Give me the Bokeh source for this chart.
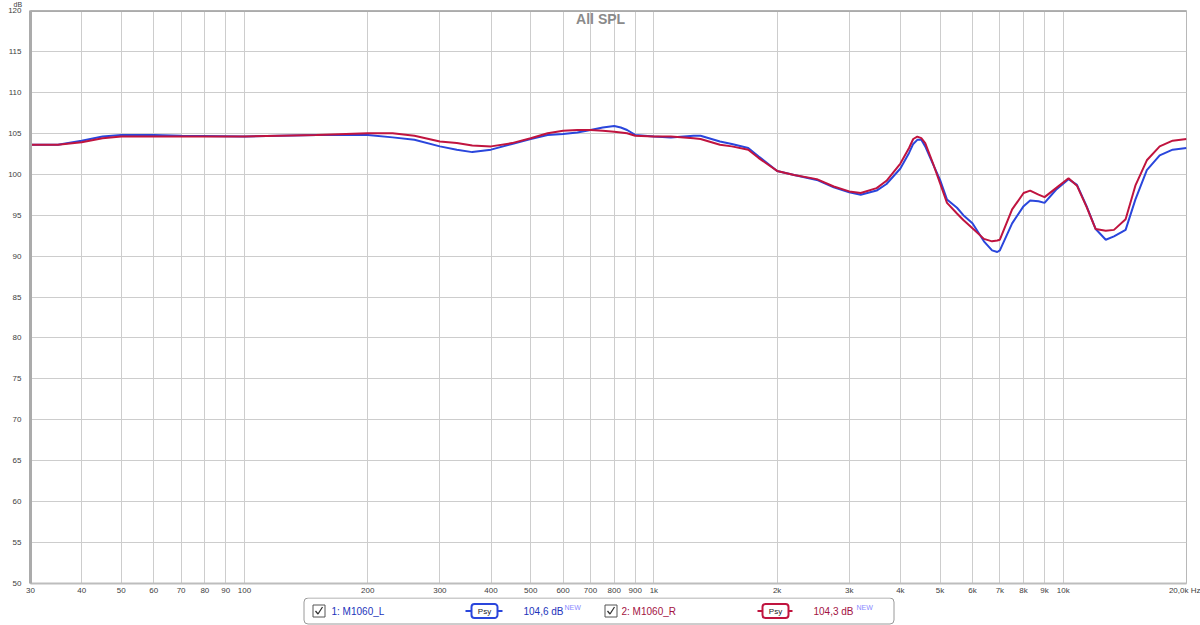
from bokeh.plotting import figure
from bokeh.layouts import column
from bokeh.models import Range1d, FixedTicker, Label, Span
from bokeh.embed import file_html
from bokeh.resources import INLINE

# ---------------- data ----------------
freq_hz = [30, 35, 40, 45, 50, 60, 70, 100, 150, 200, 230, 260, 300, 330, 360, 400,
           450, 500, 550, 600, 650, 700, 750, 800, 830, 860, 900, 1000, 1100, 1250,
           1300, 1450, 1550, 1700, 1800, 2000, 2200, 2500, 2750, 3000, 3200, 3500,
           3700, 4000, 4200, 4300, 4400, 4500, 4600, 4800, 5000, 5200, 5500, 5700,
           6000, 6400, 6700, 6900, 7000, 7500, 8000, 8300, 8700, 9000, 9600, 10300,
           10800, 11400, 12000, 12700, 13300, 14200, 15000, 16000, 17200, 18500, 20000]

spl_left = [103.6, 103.6, 104.1, 104.6, 104.8, 104.8, 104.7, 104.6, 104.8, 104.8,
            104.5, 104.2, 103.4, 103.0, 102.7, 103.0, 103.7, 104.3, 104.8, 104.9,
            105.1, 105.4, 105.7, 105.9, 105.7, 105.4, 104.8, 104.6, 104.5, 104.7,
            104.7, 104.0, 103.7, 103.2, 102.2, 100.4, 99.9, 99.3, 98.4, 97.8, 97.5,
            98.0, 98.8, 100.7, 102.6, 103.7, 104.2, 104.2, 103.4, 101.3, 99.3, 96.9,
            95.9, 95.0, 94.0, 91.8, 90.7, 90.5, 90.7, 94.0, 96.1, 96.8, 96.7, 96.5,
            98.1, 99.4, 98.7, 96.1, 93.3, 92.0, 92.4, 93.2, 96.9, 100.5, 102.3,
            103.0, 103.2]

spl_right = [103.6, 103.6, 103.9, 104.4, 104.6, 104.6, 104.6, 104.6, 104.8, 105.0,
             105.0, 104.7, 104.0, 103.8, 103.5, 103.4, 103.8, 104.4, 105.0, 105.3,
             105.4, 105.4, 105.3, 105.2, 105.1, 105.0, 104.7, 104.6, 104.6, 104.4,
             104.3, 103.6, 103.4, 103.0, 102.0, 100.4, 99.9, 99.4, 98.5, 97.9, 97.7,
             98.3, 99.2, 101.3, 103.2, 104.3, 104.6, 104.4, 103.8, 101.4, 98.9, 96.5,
             95.2, 94.4, 93.4, 92.1, 91.8, 91.9, 92.0, 95.7, 97.7, 98.0, 97.5, 97.2,
             98.3, 99.5, 98.6, 96.0, 93.3, 93.1, 93.2, 94.5, 98.6, 101.7, 103.4,
             104.1, 104.3]

x_ticks = [30, 40, 50, 60, 70, 80, 90, 100, 200, 300, 400, 500, 600, 700, 800, 900,
           1000, 2000, 3000, 4000, 5000, 6000, 7000, 8000, 9000, 10000, 20000]
x_tick_labels = ["30", "40", "50", "60", "70", "80", "90", "100", "200", "300", "400",
                 "500", "600", "700", "800", "900", "1k", "2k", "3k", "4k", "5k", "6k",
                 "7k", "8k", "9k", "10k", "20,0k Hz"]
y_ticks = [50, 55, 60, 65, 70, 75, 80, 85, 90, 95, 100, 105, 110, 115, 120]

title_text = "All SPL"
y_unit = "dB"
legend_names = ["1: M1060_L", "2: M1060_R"]
legend_levels = ["104,6 dB", "104,3 dB"]

BLUE = "#2a46dc"
RED = "#c0143f"
BLUE_TXT = "#2233bb"
RED_TXT = "#a3123f"
FONT = "Liberation Sans"

# ---------------- main figure ----------------
p = figure(width=1200, height=597, x_axis_type="log",
           x_range=Range1d(30, 20000), y_range=Range1d(50, 120),
           output_backend="svg", toolbar_location=None,
           min_border_left=30, min_border_right=14, min_border_top=10,
           min_border_bottom=12)
p.background_fill_color = "white"
p.border_fill_color = "white"
p.outline_line_color = "#b8b8b8"
p.outline_line_width = 1

# unit text above the y axis
p.title.text = y_unit
p.title.align = "left"
p.title.vertical_align = "top"
p.title.offset = -17
p.title.standoff = 1
p.title.text_font = FONT
p.title.text_font_size = "7px"
p.title.text_font_style = "normal"
p.title.text_color = "#404040"

p.xaxis.ticker = FixedTicker(ticks=x_ticks)
p.xaxis.major_label_overrides = {t: l for t, l in zip(x_ticks, x_tick_labels)}
p.yaxis.ticker = FixedTicker(ticks=y_ticks)

for ax in (p.xaxis[0], p.yaxis[0]):
    ax.major_tick_line_color = None
    ax.minor_tick_line_color = None
    ax.major_label_text_font = FONT
    ax.major_label_text_font_size = "8px"
    ax.major_label_text_color = "#404040"
p.xaxis.major_tick_out = 0
p.xaxis.major_tick_in = 0
p.xaxis.major_label_standoff = 2
p.yaxis.major_label_standoff = 3
p.xaxis.axis_line_color = "#bdbdbd"
p.xaxis.axis_line_width = 2
p.yaxis.axis_line_color = "#ababab"
p.yaxis.axis_line_width = 3

p.xgrid.grid_line_color = "#cdcdcd"
p.ygrid.grid_line_color = "#cdcdcd"

p.add_layout(Span(location=120, dimension="width", line_color="#ababab", line_width=3))

p.line(freq_hz, spl_left, line_color=BLUE, line_width=2)
p.line(freq_hz, spl_right, line_color=RED, line_width=2)

p.add_layout(Label(x=741, y=120, text=title_text, text_align="center",
                   text_baseline="top", text_font=FONT, text_font_size="14px",
                   text_font_style="bold", text_color="#8a8a8a"))

# ---------------- legend strip ----------------
LH = 28
leg = figure(width=1200, height=LH, x_range=Range1d(30, 1186), y_range=Range1d(LH, 0),
             output_backend="svg", toolbar_location=None,
             min_border=0, min_border_left=30, min_border_right=14,
             min_border_top=0, min_border_bottom=0)
leg.axis.visible = False
leg.grid.visible = False
leg.outline_line_color = None
leg.background_fill_color = "white"
leg.border_fill_color = "white"

Y0 = 597  # page y of the legend strip top


def ly(py):
    return py - Y0


def lab(px, py, text, size="10px", color="#222", align="left", baseline="middle",
        font=FONT):
    leg.add_layout(Label(x=px, y=ly(py), text=text, text_align=align,
                         text_baseline=baseline, text_font=font,
                         text_font_size=size, text_color=color))


leg.quad(left=[303.5], right=[893.5], top=[ly(597.5)], bottom=[ly(623.5)],
         fill_color="white", line_color="#9a9a9a", line_width=1, border_radius=4)

cb_x = [312, 604]
txt_x = [331, 621]
psy_line = [(465, 502), (757, 792)]
psy_rect = [(471, 497), (762, 788)]
lvl_x = [523, 813]
new_x = [564, 856]
line_cols = [BLUE, RED]
txt_cols = [BLUE_TXT, RED_TXT]
cy = 610.5

for i in range(2):
    c = cb_x[i]
    leg.quad(left=[c + 0.5], right=[c + 12.5], top=[ly(cy - 6)], bottom=[ly(cy + 6)],
             fill_color="white", line_color="#555555", line_width=1)
    leg.line([c + 3, c + 5.5, c + 10], [ly(cy), ly(cy + 3), ly(cy - 4)],
             line_color="#333333", line_width=1.3)
    lab(txt_x[i], cy, legend_names[i], size="10px", color=txt_cols[i])
    leg.line([psy_line[i][0], psy_line[i][1]], [ly(cy), ly(cy)],
             line_color=line_cols[i], line_width=2)
    leg.quad(left=[psy_rect[i][0]], right=[psy_rect[i][1]], top=[ly(cy - 7)],
             bottom=[ly(cy + 7)], fill_color="white", line_color=line_cols[i],
             line_width=2, border_radius=3)
    lab((psy_rect[i][0] + psy_rect[i][1]) / 2, cy, "Psy", size="8px",
        color="#222222", align="center")
    lab(lvl_x[i], cy, legend_levels[i], size="10px", color=txt_cols[i])
    lab(new_x[i], cy - 4, "NEW", size="7px", color="#8a8aff")

layout = column(p, leg, spacing=0)
open("out.html", "w").write(file_html(layout, INLINE))
